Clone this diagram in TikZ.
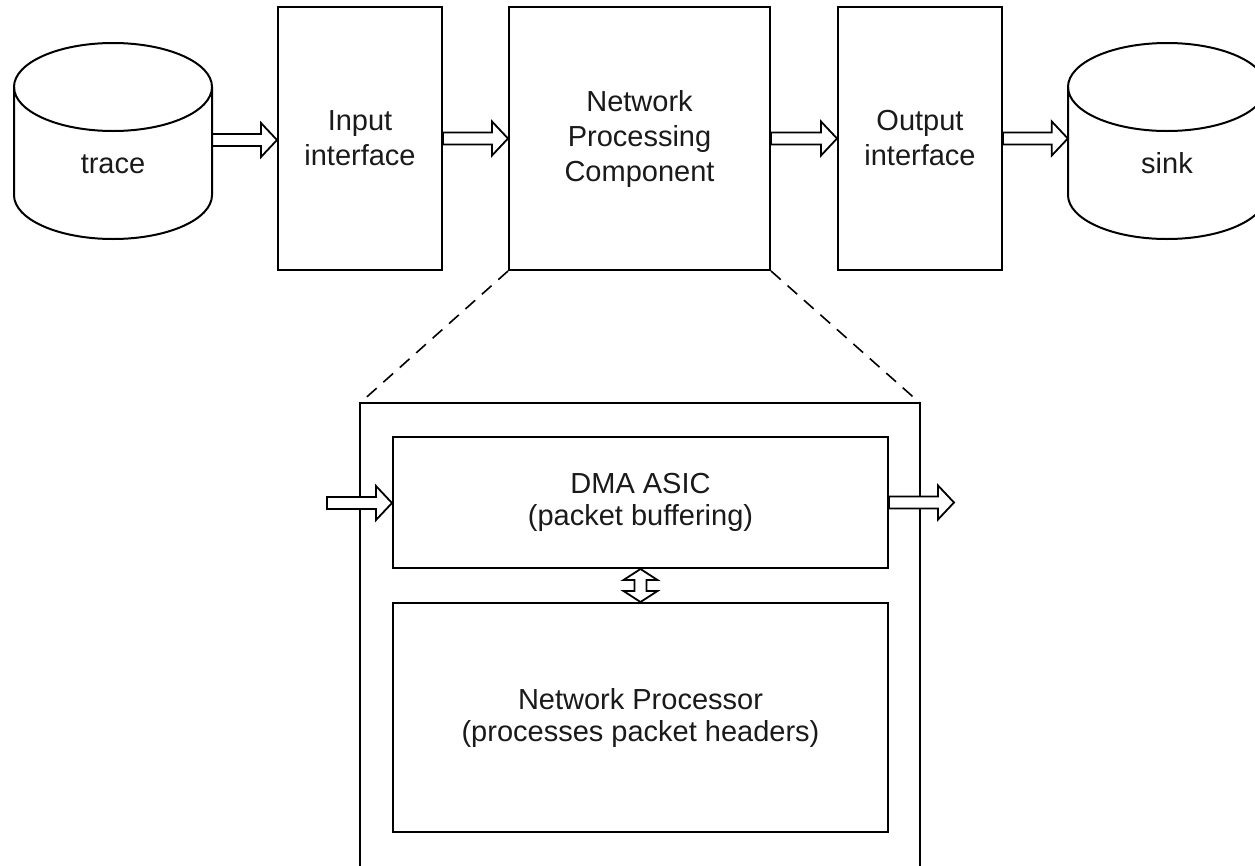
\documentclass[tikz,border=0pt]{standalone}
\usepackage{fontspec}
\setmainfont{Liberation Sans}
\usetikzlibrary{calc}
\definecolor{txt}{HTML}{1A1A1A}
\tikzset{
  box/.style={draw, line width=2pt, inner sep=0pt, align=center, text=txt, font=\fontsize{29}{32}\selectfont},
  tallbox/.style={box, font=\fontsize{29}{35}\selectfont},
  lbl/.style={inner sep=0pt, align=center, text=txt, font=\fontsize{29}{33}\selectfont},
  anchorbox/.style={inner sep=0pt, minimum width=198pt, minimum height=196pt},
  barrow/.style={draw, line width=1.8pt, fill=white, line join=miter},
  zoomline/.style={line width=1.6pt, dash pattern=on 13pt off 9pt},
  frame/.style={line width=2pt},
  cyl/.style={line width=2pt}
}
\newcommand\harrow[2]{\draw[barrow] let \p1=(#1), \p2=(#2) in
  (\x1,\y1+6pt) -- (\x2-16pt,\y1+6pt) -- (\x2-16pt,\y1+17pt) -- (\x2,\y1) --
  (\x2-16pt,\y1-17pt) -- (\x2-16pt,\y1-6pt) -- (\x1,\y1-6pt) -- cycle;}
\newcommand\varrow[2]{\draw[barrow] let \p1=(#1), \p2=(#2) in
  (\x1,\y1) -- (\x1+17pt,\y1-11pt) -- (\x1+6pt,\y1-11pt) -- (\x1+6pt,\y2+11pt) --
  (\x1+17pt,\y2+11pt) -- (\x1,\y2) -- (\x1-17pt,\y2+11pt) -- (\x1-6pt,\y2+11pt) --
  (\x1-6pt,\y1-11pt) -- (\x1-17pt,\y1-11pt) -- cycle;}
\newcommand\drawcyl[1]{%
  \draw[cyl, fill=white] (#1-99,87) -- (#1-99,195)
    arc[start angle=180, end angle=360, x radius=99pt, y radius=44pt] -- (#1+99,87);
  \draw[cyl] (#1,87) ellipse [x radius=99pt, y radius=44pt];}
\begin{document}
\begin{tikzpicture}[x=1pt, y=-1pt]
\useasboundingbox (0,0) rectangle (1255,865);
\clip (0,0) rectangle (1255,865);
\fill[white] (0,0) rectangle (1255,865);

% cylinders
\drawcyl{113}
\drawcyl{1167}
\node[anchorbox] (trace) at (113,140) {};
\node[anchorbox] (sink) at (1167,140) {};
\node[lbl, anchor=base] (tracelbl) at (113,173) {trace};
\node[lbl, anchor=base] (sinklbl) at (1167,173) {sink};

% top boxes
\node[tallbox, minimum width=164pt, minimum height=263pt] (in) at (360,138.5) {Input\\interface};
\node[tallbox, minimum width=261pt, minimum height=263pt] (npc) at (639.5,138.5) {Network\\Processing\\Component};
\node[tallbox, minimum width=164pt, minimum height=263pt] (out) at (920,138.5) {Output\\interface};

\harrow{trace.east}{in.west}
\harrow{in.east}{npc.west}
\harrow{npc.east}{out.west}
\harrow{out.east}{sink.west}

% zoomed frame
\coordinate (fl) at (360,403);
\coordinate (fr) at (920,403);
\coordinate (flb) at (360,870);
\coordinate (frb) at (920,870);
\draw[frame] (flb) -- (fl) -- (fr) -- (frb);
\draw[zoomline] (npc.south west) -- (fl);
\draw[zoomline] (npc.south east) -- (fr);

\node[box, minimum width=495pt, minimum height=131pt] (dma) at (640.5,502.5) {DMA ASIC\\(packet buffering)};
\node[box, minimum width=495pt, minimum height=229pt] (np) at (640.5,717.5) {Network Processor\\(processes packet headers)};

\coordinate (dmain) at (327,503);
\coordinate (dmaout) at (954,503);
\harrow{dmain}{dma.west}
\harrow{dma.east}{dmaout}
\varrow{dma.south}{np.north}
\end{tikzpicture}
\end{document}
